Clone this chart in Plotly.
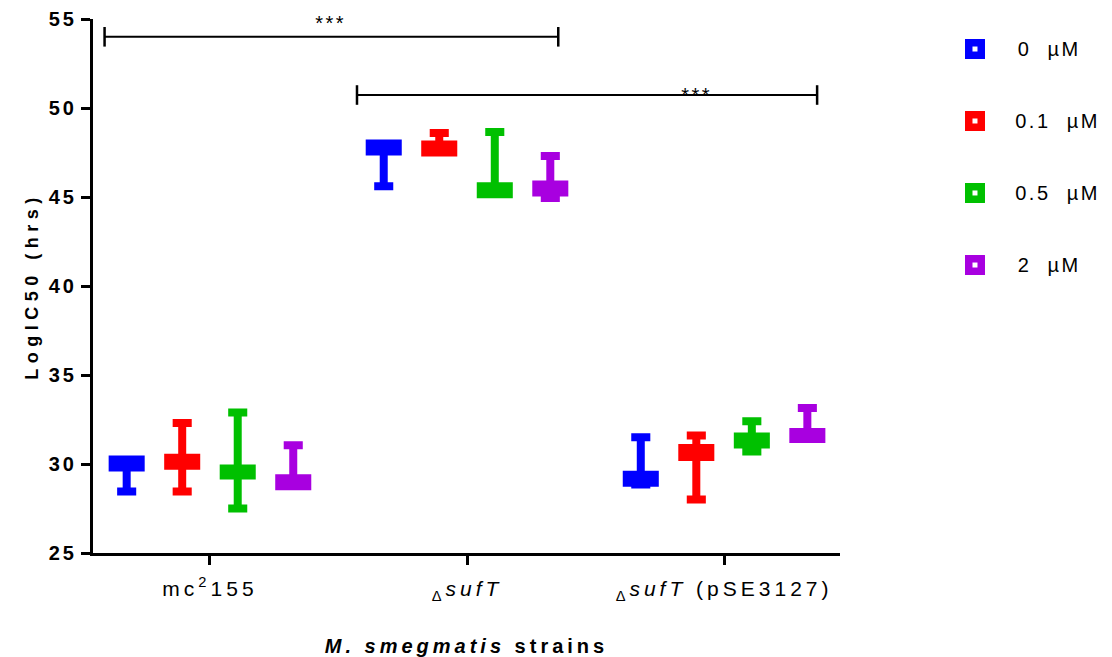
import plotly.graph_objects as go

# Strains on the x axis and their displayed labels
strains = ["mc2155", "dsufT", "dsufT_pSE3127"]
strain_labels = [
    "mc<sup>2</sup>155",
    "<sub>Δ</sub><i>sufT</i>",
    "<sub>Δ</sub><i>sufT</i> (pSE3127)",
]

# Drug concentrations (one box series each) and their colours
doses = ["0  µM", "0.1  µM", "0.5  µM", "2  µM"]
colors = ["#0000FF", "#FF0000", "#00C000", "#A800E0"]

# Box statistics, one row per concentration, one column per strain
whisker_min = [
    [28.45, 45.60, 28.85],
    [28.45, 47.50, 28.00],
    [27.50, 45.15, 30.70],
    [28.75, 44.95, 31.40],
]
quartile_1 = [
    [29.80, 47.55, 28.95],
    [29.90, 47.50, 30.40],
    [29.35, 45.15, 31.10],
    [28.75, 45.25, 31.40],
]
medians = [
    [30.00, 47.80, 29.15],
    [30.10, 47.70, 30.65],
    [29.55, 45.40, 31.35],
    [29.00, 45.45, 31.60],
]
quartile_3 = [
    [30.25, 48.00, 29.40],
    [30.35, 47.95, 30.90],
    [29.75, 45.60, 31.55],
    [29.20, 45.70, 31.80],
]
whisker_max = [
    [30.25, 48.00, 31.50],
    [32.30, 48.60, 31.60],
    [32.90, 48.65, 32.40],
    [31.05, 47.30, 33.15],
]

y_ticks = [25, 30, 35, 40, 45, 50, 55]

# Significance brackets: (start, end, height, label x, label y, label)
brackets = [
    (-0.41, 1.355, 54.0, 0.47, 54.75, "***"),
    (0.572, 2.362, 50.73, 1.895, 50.75, "***"),
]

FONT = "Liberation Sans, Arial, sans-serif"

fig = go.Figure()
for i, dose in enumerate(doses):
    fig.add_trace(go.Box(
        x=strains,
        lowerfence=whisker_min[i],
        q1=quartile_1[i],
        median=medians[i],
        q3=quartile_3[i],
        upperfence=whisker_max[i],
        name=dose,
        line=dict(color=colors[i], width=8),
        fillcolor=colors[i],
        whiskerwidth=0.68,
        boxpoints=False,
        showlegend=False,
        hoverinfo="skip",
    ))

# Significance brackets with end ticks and asterisks
for x0, x1, yb, tx, ty, label in brackets:
    fig.add_shape(type="line", xref="x", yref="y", x0=x0, x1=x1, y0=yb, y1=yb,
                  line=dict(color="black", width=2))
    for xe in (x0, x1):
        fig.add_shape(type="line", xref="x", yref="y", x0=xe, x1=xe,
                      y0=yb - 0.55, y1=yb + 0.55, line=dict(color="black", width=2.5))
    fig.add_annotation(x=tx, y=ty, xref="x", yref="y", text=label, showarrow=False,
                       font=dict(family=FONT, size=20, color="black"), yanchor="middle")

# Legend: colour swatch with a white centre and the concentration label
legend_x = 1.1807
legend_y = [0.9438, 0.8090, 0.6742, 0.5393]
for c, dose, ly in zip(colors, doses, legend_y):
    fig.add_shape(type="rect", xref="paper", yref="paper", xsizemode="pixel", ysizemode="pixel",
                  xanchor=legend_x, yanchor=ly, x0=-10, x1=10, y0=-10, y1=10,
                  fillcolor=c, line=dict(width=0))
    fig.add_shape(type="rect", xref="paper", yref="paper", xsizemode="pixel", ysizemode="pixel",
                  xanchor=legend_x, yanchor=ly, x0=-2.5, x1=2.5, y0=-2.5, y1=2.5,
                  fillcolor="white", line=dict(width=0))
    fig.add_annotation(x=1.2435, y=ly, xref="paper", yref="paper", text=dose, showarrow=False,
                       xanchor="left", yanchor="middle",
                       font=dict(family=FONT, size=20, color="black"))

fig.update_layout(
    width=1112,
    height=657,
    margin=dict(l=93, r=272, t=19, b=104),
    paper_bgcolor="white",
    plot_bgcolor="white",
    boxmode="group",
    boxgap=0.136,
    boxgroupgap=0.495,
    font=dict(family=FONT, color="black"),
    xaxis=dict(
        type="category",
        range=[-0.455, 2.451],
        automargin=False,
        tickvals=strains,
        ticktext=strain_labels,
        tickfont=dict(family=FONT, size=21, color="black"),
        ticklabelstandoff=6,
        showline=True, linecolor="black", linewidth=3,
        ticks="outside", ticklen=9, tickwidth=3, tickcolor="black",
        showgrid=False, zeroline=False,
        title=dict(text="<i>M. smegmatis</i> strains",
                   font=dict(family=FONT, size=20, color="black", weight="bold"),
                   standoff=38),
    ),
    yaxis=dict(
        range=[25, 55],
        automargin=False,
        tickvals=y_ticks,
        tickfont=dict(family=FONT, size=20, color="black", weight="bold"),
        showline=True, linecolor="black", linewidth=3,
        ticks="outside", ticklen=9, tickwidth=3, tickcolor="black",
        showgrid=False, zeroline=False,
        title=dict(text="LogIC50 (hrs)",
                   font=dict(family=FONT, size=18, color="black", weight="bold"),
                   standoff=12),
    ),
)

# Wider letter spacing on the text, as in the original figure style
spacing_js = """
var gd = document.getElementById('{plot_id}');
function spread(sel, v) {
  gd.querySelectorAll(sel).forEach(function (t) { t.style.letterSpacing = v; });
}
spread('g.ytick text', '3px');
spread('g.xtick text', '4px');
spread('text.xtitle', '4px');
spread('text.ytitle', '5.5px');
spread('text.annotation-text', '2.5px');
"""

fig.write_html("out.html", post_script=spacing_js)
